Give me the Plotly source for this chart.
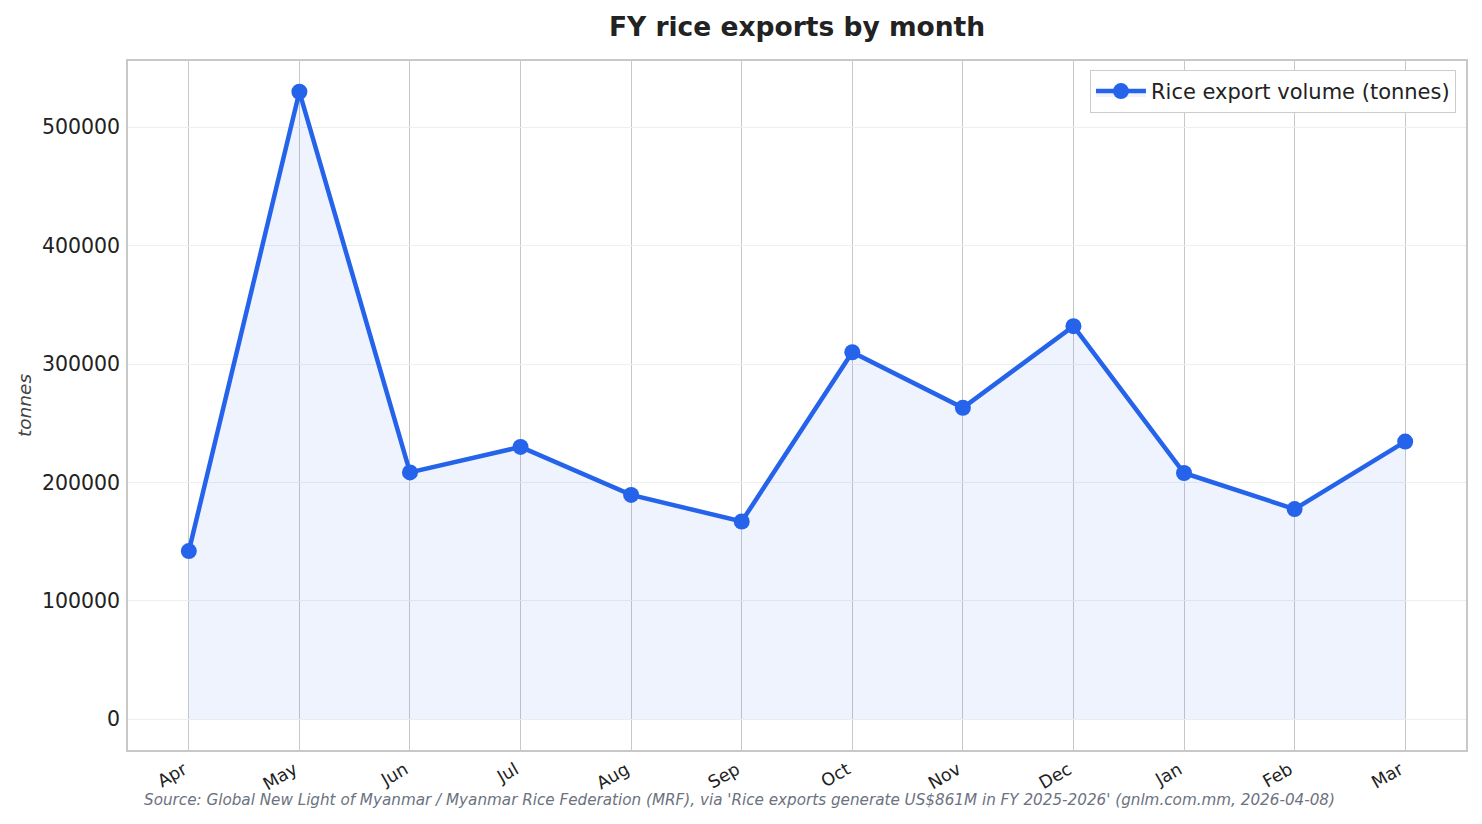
import plotly.graph_objects as go

months = ['Apr', 'May', 'Jun', 'Jul', 'Aug', 'Sep', 'Oct', 'Nov', 'Dec', 'Jan', 'Feb', 'Mar']
tonnes = [142000, 530000, 208500, 230000, 189500, 167000, 310000, 263000, 332000, 208000, 177500, 234500]
y_ticks = [0, 100000, 200000, 300000, 400000, 500000]

source = ("Source: Global New Light of Myanmar / Myanmar Rice Federation (MRF), via "
          "'Rice exports generate US$861M in FY 2025-2026' (gnlm.com.mm, 2026-04-08)")

blue = '#2563eb'

fig = go.Figure()
fig.add_trace(go.Scatter(
    x=months, y=tonnes,
    mode='lines+markers',
    name='Rice export volume (tonnes)',
    line=dict(color=blue, width=4.5),
    marker=dict(color=blue, size=16),
    fill='tozeroy',
    fillcolor='rgba(37,99,235,0.08)',
))

# page has an 8px body margin, so the figure is a bit smaller than the window
fig.update_layout(
    width=1466, height=808,
    margin=dict(l=120, r=6, t=53, b=66),
    paper_bgcolor='white',
    plot_bgcolor='white',
    font=dict(family='DejaVu Sans', size=18, color='#222'),
    title=dict(text='<b>FY rice exports by month</b>', x=0.5, xref='paper',
               y=0.9765, yanchor='middle', font=dict(size=26.5, color='#222')),
    legend=dict(x=0.9925, y=0.987, xanchor='right', yanchor='top',
                bgcolor='white', bordercolor='#cccccc', borderwidth=1,
                itemwidth=50,
                font=dict(size=21, color='#222')),
    showlegend=True,
)

fig.update_xaxes(
    range=[-0.55, 11.55],
    tickangle=-30,
    showgrid=True, gridcolor='#c8c8c8', gridwidth=1.3,
    showline=True, linecolor='#c8c8c8', linewidth=1.5, mirror=True,
    ticks='outside', ticklen=1, tickcolor='rgba(0,0,0,0)',
    ticklabelshift=-5,
    tickfont=dict(size=17.5),
)
fig.update_yaxes(
    range=[-26000, 556000],
    tickvals=y_ticks, tickformat='d',
    showgrid=True, gridcolor='#eeeeee', gridwidth=1,
    zeroline=False,
    showline=True, linecolor='#c8c8c8', linewidth=1.5, mirror=True,
    ticks='outside', ticklen=2, tickcolor='rgba(0,0,0,0)',
    tickfont=dict(size=20.5),
    title=dict(text='<i>tonnes</i>', font=dict(size=18.5, color='#444'), standoff=5),
)

fig.add_annotation(
    text='<i>' + source + '</i>',
    xref='paper', yref='paper',
    x=0.4567, y=-0.0726,
    xanchor='center', yanchor='middle',
    showarrow=False,
    font=dict(size=15.2, color='#6b7280'),
)

fig.write_html('out.html')
